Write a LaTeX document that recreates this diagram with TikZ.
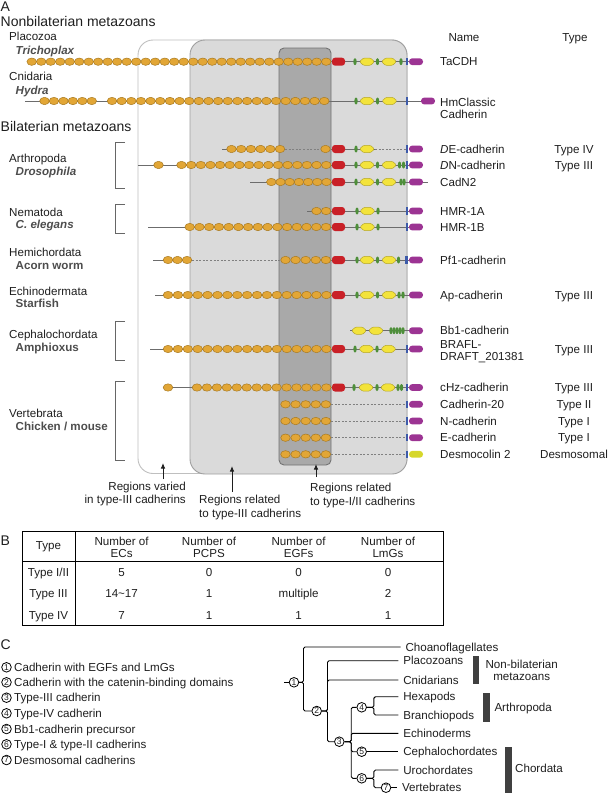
\documentclass[tikz,border=0pt]{standalone}
\usepackage{fontspec}
\setmainfont{Liberation Sans}
\usetikzlibrary{arrows.meta,positioning}

\definecolor{ecfill}{HTML}{E2A636}
\definecolor{ecline}{HTML}{A87A22}
\definecolor{pcpsred}{HTML}{C92027}
\definecolor{egfgreen}{HTML}{4E8F3A}
\definecolor{lmgyellow}{HTML}{F3E33B}
\definecolor{lmgline}{HTML}{B5A72A}
\definecolor{tmblue}{HTML}{3D5BA9}
\definecolor{cytopurple}{HTML}{9C3493}
\definecolor{desmolime}{HTML}{D6D72B}
\definecolor{boxlight}{HTML}{DADADA}
\definecolor{boxdark}{HTML}{A9A9A9}
\definecolor{genusgray}{HTML}{4D4D4D}
\definecolor{bargray}{HTML}{404040}
\definecolor{inkgray}{HTML}{1E1E1E}

% domain glyphs, (x,y) in picture units
\newcommand{\dEC}[2]{\filldraw[ecdom] (#1,#2) ellipse[x radius=4.8pt, y radius=3.7pt];}
\newcommand{\ecrun}[4]{% y, first centre, count, step
  \foreach \k in {1,...,#3}{\pgfmathsetmacro{\ecx}{#2+(\k-1)*#4}\dEC{\ecx}{#1}}}
\newcommand{\dPCPS}[2]{\fill[pcpsred, rounded corners=3pt] (#1-6.5,#2-4) rectangle (#1+6.5,#2+4);}
\newcommand{\dEGF}[2]{\fill[egfgreen] (#1,#2) ellipse[x radius=1.7pt, y radius=3.5pt];}
\newcommand{\dLmG}[2]{\filldraw[lmgdom] (#1-7.5,#2) -- (#1-3.5,#2-3.7) -- (#1+3.5,#2-3.7)
  -- (#1+7.5,#2) -- (#1+3.5,#2+3.7) -- (#1-3.5,#2+3.7) -- cycle;}
\newcommand{\dTM}[2]{\fill[tmblue] (#1-1.2,#2-3.6) rectangle (#1+1.2,#2+3.6);}
\newcommand{\dCyto}[3][cytopurple]{\fill[#1, rounded corners=3.2pt] (#2,#3-3.4) rectangle (#2+14,#3+3.4);}

\tikzset{
  ecdom/.style={fill=ecfill, draw=ecline, line width=0.5pt},
  lmgdom/.style={fill=lmgyellow, draw=lmgline, line width=0.5pt, rounded corners=1.2pt},
  rowline/.style={draw=gray!85!black, line width=0.9pt},
  rowdash/.style={draw=gray, line width=0.6pt, dash pattern=on 2pt off 1.6pt},
  lab/.style={inner sep=0pt, text height=8.3pt, text depth=0pt},
  namelab/.style={lab, anchor=west},
  typelab/.style={lab, anchor=center},
  phylum/.style={inner sep=0pt, anchor=base west},
  genus/.style={phylum, font=\fontsize{11.6}{13.5}\selectfont\bfseries, text=genusgray},
  bracket/.style={draw=gray!80!black, line width=0.9pt},
  regarrow/.style={-{Latex[length=5.5pt,width=4.5pt]}, line width=0.9pt, draw=inkgray},
  num/.style={circle, draw, line width=0.8pt, inner sep=0pt, minimum size=9.6pt,
    font=\fontsize{8.5}{8.5}\selectfont},
  treelab/.style={lab, anchor=west, inner xsep=4.8pt},
  tree/.style={line width=0.9pt, rounded corners=1.5pt},
}

\begin{document}
\begin{tikzpicture}[x=1pt, y=-1pt, font=\fontsize{11.6}{13.5}\selectfont, text=inkgray]
\useasboundingbox (0,0) rectangle (608,795);

% ---- panel A: shaded regions --------------------
\filldraw[fill=white, draw=gray!50, line width=0.9pt, rounded corners=15pt] (138,40) rectangle (407,473.5);
\filldraw[fill=boxlight, draw=gray!75, line width=0.9pt, rounded corners=15pt] (190,40) rectangle (407,474);
\filldraw[fill=boxdark, draw=gray!110, line width=0.9pt, rounded corners=5pt] (279,48) rectangle (331,465);

% ---- panel A: domain rows -----------------------
% TaCDH
\draw[rowline] (31.7,61.7) -- (416,61.7);
\ecrun{61.7}{31.7}{32}{9.5}
\dPCPS{338.5}{61.7}
\dEGF{355}{61.7} \dLmG{367}{61.7} \dEGF{377.5}{61.7} \dLmG{389}{61.7} \dEGF{401}{61.7}
\dTM{407}{61.7} \dCyto{409}{61.7}
% HmClassic cadherin
\draw[rowline] (25,101) -- (430,101);
\ecrun{101}{44.5}{6}{9.45}
\ecrun{101}{112}{23}{9.65}
\dEGF{356}{101} \dLmG{367}{101} \dEGF{377.5}{101} \dLmG{389.5}{101}
\dTM{407}{101} \dCyto{421}{101}
% DE-cadherin
\draw[rowline] (222,149) -- (285,149);
\draw[rowdash] (285,149) -- (320,149);
\draw[rowline] (331,149) -- (375,149);
\draw[rowdash] (375,149) -- (406,149);
\ecrun{149}{231.5}{6}{9.7}
\dEC{325.5}{149}
\dPCPS{338.5}{149}
\dEGF{356}{149} \dLmG{367}{149}
\dTM{407}{149} \dCyto{409}{149}
% DN-cadherin
\draw[rowline] (138,165) -- (416,165);
\dEC{158.5}{165}
\ecrun{165}{181.5}{16}{9.65}
\dPCPS{338.5}{165}
\dEGF{356}{165} \dLmG{367}{165} \dEGF{377.5}{165} \dLmG{389}{165} \dEGF{399.5}{165} \dEGF{403.5}{165}
\dTM{407}{165} \dCyto{409}{165}
% CadN2
\draw[rowline] (250,182) -- (428,182);
\ecrun{182}{271.3}{7}{9.2}
\dPCPS{338.5}{182}
\dEGF{356}{182} \dLmG{367}{182} \dEGF{377.5}{182} \dLmG{389}{182} \dEGF{401}{182} \dEGF{404}{182}
\dCyto{409}{182}
% HMR-1A
\draw[rowline] (307,211) -- (416,211);
\ecrun{211}{316.5}{2}{9.6}
\dPCPS{338.5}{211}
\dEGF{357}{211} \dLmG{367.5}{211} \dEGF{378}{211}
\dTM{407}{211} \dCyto{409}{211}
% HMR-1B
\draw[rowline] (148,227) -- (416,227);
\ecrun{227}{189.7}{15}{9.74}
\dPCPS{338.5}{227}
\dEGF{357}{227} \dLmG{367.5}{227} \dEGF{378}{227}
\dTM{407}{227} \dCyto{409}{227}
% Pf1-cadherin
\draw[rowline] (153,260) -- (192,260);
\draw[rowdash] (192,260) -- (280,260);
\draw[rowline] (331,260) -- (416,260);
\ecrun{260}{168}{3}{9.5}
\ecrun{260}{285.5}{5}{10.1}
\dPCPS{338.5}{260}
\dEGF{357}{260} \dLmG{367}{260} \dEGF{377.5}{260} \dLmG{389}{260} \dEGF{398.5}{260}
\dTM{406.5}{260} \dCyto{409}{260}
% Ap-cadherin
\draw[rowline] (155,295) -- (416,295);
\ecrun{295}{168}{17}{9.9}
\dPCPS{338.5}{295}
\dEGF{357}{295} \dLmG{367}{295} \dEGF{377.5}{295} \dLmG{389}{295} \dEGF{399}{295} \dEGF{403}{295}
\dCyto{409}{295}
% Bb1-cadherin
\draw[rowline] (350,330.7) -- (416,330.7);
\dLmG{359}{330.7} \dLmG{376}{330.7}
\foreach \gx in {391,394,397,400,403} {\dEGF{\gx}{330.7}}
\dCyto{409}{330.7}
% BRAFL-DRAFT_201381
\draw[rowline] (150,349) -- (416,349);
\ecrun{349}{168}{17}{9.9}
\dPCPS{338.5}{349}
\dEGF{355}{349} \dLmG{366.5}{349} \dEGF{377}{349} \dLmG{388.5}{349}
\dTM{407}{349} \dCyto{409}{349}
% cHz-cadherin
\draw[rowline] (168,387.5) -- (416,387.5);
\dEC{168}{387.5}
\ecrun{387.5}{197}{14}{9.95}
\dPCPS{338.5}{387.5}
\dEGF{354}{387.5} \dLmG{366}{387.5} \dEGF{377}{387.5} \dLmG{388}{387.5} \dEGF{398}{387.5} \dEGF{401.5}{387.5}
\dTM{407}{387.5} \dCyto{409}{387.5}
% type I / II and desmosomal
\foreach \ry in {404.3,421,437.7} {
  \draw[rowdash] (331,\ry) -- (406,\ry);
  \ecrun{\ry}{285.5}{5}{10.1}
  \dTM{407}{\ry} \dCyto{409}{\ry}
}
\draw[rowdash] (331,454.3) -- (406,454.3);
\ecrun{454.3}{285.5}{5}{10.1}
\dTM{407}{454.3} \dCyto[desmolime]{409}{454.3}

% ---- panel A: taxa on the left ------------------
\node[phylum, font=\fontsize{14}{16}\selectfont] (panelA) at (0.5,11) {A};
\node[phylum, font=\fontsize{14}{16}\selectfont] (nonbil) at (0.5,26) {Nonbilaterian metazoans};
\node[phylum] (placozoa) at (9,40) {Placozoa};
\node[genus] (tricho) at (15.5,54.3) {\textit{Trichoplax}};
\node[phylum] (cnidaria) at (9,80) {Cnidaria};
\node[genus] (hydra) at (15.5,94.3) {\textit{Hydra}};
\node[phylum, font=\fontsize{14}{16}\selectfont] (bil) at (0.5,131.7) {Bilaterian metazoans};
\node[phylum] (arthro) at (9,162.3) {Arthropoda};
\node[genus] (droso) at (15.5,175.6) {\textit{Drosophila}};
\node[phylum] (nema) at (9,216) {Nematoda};
\node[genus] (celeg) at (15.5,228.3) {\textit{C. elegans}};
\node[phylum] (hemi) at (9,256.7) {Hemichordata};
\node[genus] (acorn) at (15.5,269.3) {Acorn worm};
\node[phylum] (echinoA) at (9,295.6) {Echinodermata};
\node[genus] (starfish) at (15.5,307.6) {Starfish};
\node[phylum] (cephaloA) at (9,338.3) {Cephalochordata};
\node[genus] (amphi) at (15.5,351) {Amphioxus};
\node[phylum] (verteA) at (9,417.6) {Vertebrata};
\node[genus] (chick) at (15.5,430) {Chicken / mouse};

% brackets
\draw[bracket] (125,142.3) -- (115,142.3) -- (115,188.3) -- (125,188.3);
\draw[bracket] (125,204) -- (115,204) -- (115,233.3) -- (125,233.3);
\draw[bracket] (125,321.7) -- (115,321.7) -- (115,360) -- (125,360);
\draw[bracket] (125,381.7) -- (115,381.7) -- (115,460) -- (125,460);

% ---- panel A: names and types -------------------
\node[namelab] (namehead) at (448.3,37.5) {Name};
\node[typelab] (typehead) at (575,37.5) {Type};
\node[namelab] (tacdh) at (440,61.7) {TaCDH};
\node[inner sep=0pt, anchor=north west, align=left, font=\fontsize{11.6}{12.3}\selectfont] (hmc) at (440,97.6) {HmClassic\\Cadherin};
\node[namelab] (decad) at (440,149) {\textit{D}E-cadherin};
\node[namelab] (dncad) at (440,165) {\textit{D}N-cadherin};
\node[namelab] (cadn2) at (440,182) {CadN2};
\node[namelab] (hmra) at (440,211) {HMR-1A};
\node[namelab] (hmrb) at (440,227) {HMR-1B};
\node[namelab] (pf1) at (440,260) {Pf1-cadherin};
\node[namelab] (apcad) at (440,295) {Ap-cadherin};
\node[namelab] (bb1) at (440,330.7) {Bb1-cadherin};
\node[inner sep=0pt, anchor=north west, align=left, font=\fontsize{11.6}{11.5}\selectfont] (brafl) at (440,340.6) {BRAFL-\\DRAFT\_201381};
\node[namelab] (chz) at (440,387.5) {cHz-cadherin};
\node[namelab] (cad20) at (440,404.3) {Cadherin-20};
\node[namelab] (ncad) at (440,421) {N-cadherin};
\node[namelab] (ecad) at (440,437.7) {E-cadherin};
\node[namelab] (dsc2) at (440,454.3) {Desmocolin 2};

\node[typelab] at (574,149) {Type IV};
\node[typelab] at (574,165) {Type III};
\node[typelab] at (574,295) {Type III};
\node[typelab] at (574,349) {Type III};
\node[typelab] at (574,387.5) {Type III};
\node[typelab] at (574,404.3) {Type II};
\node[typelab] at (574,421) {Type I};
\node[typelab] at (574,437.7) {Type I};
\node[typelab] at (574,454.3) {Desmosomal};

% ---- panel A: region captions -------------------
\node[inner sep=0pt, anchor=north east, align=right] (varied) at (186,481.6) {Regions varied\\in type-III cadherins};
\node[inner sep=0pt, anchor=north west, align=left] (relIII) at (199,494.9) {Regions related\\to type-III cadherins};
\node[inner sep=0pt, anchor=north west, align=left] (relI) at (310,483.3) {Regions related\\to type-I/II cadherins};
\coordinate (variedtail) at (163,479);   \coordinate (variedtip) at (163,463);
\coordinate (relIIItail) at (232,491.7); \coordinate (relIIItip) at (232,466);
\coordinate (relItail) at (316,477);     \coordinate (relItip) at (316,464);
\draw[regarrow] (variedtail) -- (variedtip);
\draw[regarrow] (relIIItail) -- (relIIItip);
\draw[regarrow] (relItail) -- (relItip);

% ---- panel B: table -----------------------------
\node[phylum, font=\fontsize{14}{16}\selectfont] (panelB) at (0.5,545) {B};
\draw[line width=0.9pt] (22,531.7) rectangle (443,625.3);
\draw[line width=0.9pt] (22,561) -- (443,561);
\draw[line width=0.9pt] (75,531.7) -- (75,625.3);
\begin{scope}[every node/.style={align=center, inner sep=0pt, font=\fontsize{11.6}{12.1}\selectfont}]
  \node (hType) at (48.5,547) {Type};
  \node (hEC) at (121.6,547) {Number of\\ECs};
  \node (hPCPS) at (209,547) {Number of\\PCPS};
  \node (hEGF) at (298.6,547) {Number of\\EGFs};
  \node (hLmG) at (388,547) {Number of\\LmGs};
\end{scope}
\foreach \tname/\nec/\npc/\neg/\nlm/\ty in {{Type I/II}/5/0/0/0/572.3, {Type III}/{14\textasciitilde17}/1/multiple/2/593.3, {Type IV}/7/1/1/1/615} {
  \node[typelab] at (48.5,\ty) {\tname};
  \node[typelab] at (121.6,\ty) {\nec};
  \node[typelab] at (209,\ty) {\npc};
  \node[typelab] at (298.6,\ty) {\neg};
  \node[typelab] at (388,\ty) {\nlm};
}

% ---- panel C: legend ----------------------------
\node[phylum, font=\fontsize{14}{16}\selectfont] (panelC) at (0.5,649) {C};
\node[num] (l1) at (6.5,667.3) {1};
\node[num] (l2) at (6.5,682.3) {2};
\node[num] (l3) at (6.5,697.7) {3};
\node[num] (l4) at (6.5,713.3) {4};
\node[num] (l5) at (6.5,729) {5};
\node[num] (l6) at (6.5,744.3) {6};
\node[num] (l7) at (6.5,760) {7};
\node[lab, right=2.3pt of l1] {Cadherin with EGFs and LmGs};
\node[lab, right=2.3pt of l2] {Cadherin with the catenin-binding domains};
\node[lab, right=2.3pt of l3] {Type-III cadherin};
\node[lab, right=2.3pt of l4] {Type-IV cadherin};
\node[lab, right=2.3pt of l5] {Bb1-cadherin precursor};
\node[lab, right=2.3pt of l6] {Type-I \& type-II cadherins};
\node[lab, right=2.3pt of l7] {Desmosomal cadherins};

% ---- panel C: tree ------------------------------
\node[num] (n1) at (294,682.3) {1};
\node[num] (n2) at (316.7,711) {2};
\node[num] (n3) at (339.3,741.7) {3};
\node[num] (n4) at (361.7,707.3) {4};
\node[num] (n5) at (361.7,751.7) {5};
\node[num] (n6) at (361.7,778.3) {6};
\node[num] (n7) at (386,787.7) {7};

\node[treelab] (choano) at (400.5,647) {Choanoflagellates};
\node[treelab] (placo) at (398.3,660.7) {Placozoans};
\node[treelab] (cnid) at (398.3,680) {Cnidarians};
\node[treelab] (hexa) at (398.3,696.7) {Hexapods};
\node[treelab] (branch) at (398.3,715) {Branchiopods};
\node[treelab] (echino) at (398.3,733.3) {Echinoderms};
\node[treelab] (cephalo) at (398.3,751.7) {Cephalochordates};
\node[treelab] (uro) at (398.3,770) {Urochordates};
\node[treelab] (verte) at (397,787.7) {Vertebrates};

\draw[tree] (n1.west) -- ++(-5,0);
\draw[tree] (n1.east) -- ++(4.3,0) |- (choano.west);
\draw[tree] (n1.east) -- ++(4.3,0) |- (n2.west);
\draw[tree] (n2.east) -- ++(5.6,0) |- (placo.west);
\draw[tree] (n2.east) -- ++(5.6,0) |- (cnid.west);
\draw[tree] (n2.east) -- ++(5.6,0) |- (n3.west);
\draw[tree] (n3.east) -- ++(6.7,0) |- (n4.west);
\draw[tree] (n3.east) -- ++(6.7,0) |- (echino.west);
\draw[tree] (n3.east) -- ++(6.7,0) |- (n5.west);
\draw[tree] (n3.east) -- ++(6.7,0) |- (n6.west);
\draw[tree] (n4.east) -- ++(7,0) |- (hexa.west);
\draw[tree] (n4.east) -- ++(7,0) |- (branch.west);
\draw[tree] (n5) -- (cephalo.west);
\draw[tree] (n6.east) -- ++(7,0) |- (uro.west);
\draw[tree] (n6.east) -- ++(7,0) |- (n7.west);
\draw[tree] (n7) -- (verte.west);

% group bars
\fill[bargray] (472.7,656) rectangle (479.3,684);
\fill[bargray] (483.3,693.3) rectangle (490,721.7);
\fill[bargray] (505,747) rectangle (511.7,793);
\node[align=center, inner sep=0pt, font=\fontsize{11.6}{11.7}\selectfont] (nonbilC) at (521.7,670.5) {Non-bilaterian\\metazoans};
\node[lab, anchor=west] (arthC) at (494.3,707.3) {Arthropoda};
\node[lab, anchor=west] (chordC) at (515,768.3) {Chordata};
\end{tikzpicture}
\end{document}
